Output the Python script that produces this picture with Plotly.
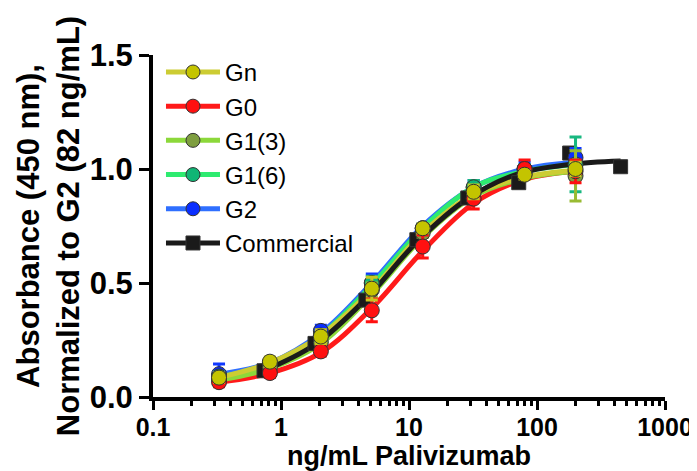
import plotly.graph_objects as go

# ---------------- data ----------------
conc = [0.328, 0.819, 2.048, 5.12, 12.8, 32, 80, 200]          # ng/mL, glycoforms
conc_commercial = [0.737, 1.843, 4.608, 11.52, 28.8, 72, 180, 450]

series_names = ["Gn", "G0", "G1(3)", "G1(6)", "G2", "Commercial"]

gn_vals = [0.085, 0.155, 0.265, 0.475, 0.74, 0.90, 0.975, 1.00]
g0_vals = [0.065, 0.105, 0.200, 0.380, 0.66, 0.87, 1.000, 0.99]
g13_vals = [0.080, 0.130, 0.240, 0.470, 0.72, 0.90, 0.980, 0.97]
g16_vals = [0.090, 0.140, 0.270, 0.500, 0.74, 0.92, 1.000, 1.02]
g2_vals = [0.100, 0.150, 0.290, 0.500, 0.74, 0.92, 1.000, 1.05]
com_vals = [0.115, 0.235, 0.425, 0.690, 0.873, 0.94, 1.070, 1.01]

gn_err = [0.02, 0.02, 0.03, 0.05, 0.02, 0.03, 0.02, 0.03]
g0_err = [0.02, 0.02, 0.02, 0.05, 0.05, 0.045, 0.04, 0.05]
g13_err = [0.02, 0.02, 0.02, 0.03, 0.02, 0.02, 0.02, 0.11]
g16_err = [0.02, 0.02, 0.02, 0.03, 0.02, 0.03, 0.02, 0.12]
g2_err = [0.045, 0.02, 0.025, 0.04, 0.02, 0.03, 0.03, 0.04]
com_err = [0, 0, 0, 0, 0, 0, 0, 0]

# fitted curve heights at the same concentrations
gn_fit = [0.085, 0.150, 0.270, 0.470, 0.72, 0.89, 0.965, 0.995]
g0_fit = [0.065, 0.105, 0.195, 0.390, 0.64, 0.85, 0.955, 0.99]
g13_fit = [0.075, 0.125, 0.235, 0.450, 0.70, 0.88, 0.960, 0.99]
g16_fit = [0.090, 0.140, 0.270, 0.490, 0.74, 0.92, 0.990, 1.02]
g2_fit = [0.100, 0.150, 0.280, 0.500, 0.75, 0.92, 1.000, 1.03]
com_fit = [0.115, 0.230, 0.430, 0.680, 0.87, 0.98, 1.020, 1.035]

x_tickvals = [0.1, 1, 10, 100, 1000]
x_ticktext = ["0.1", "1", "10", "100", "1000"]
y_tickvals = [0.0, 0.5, 1.0, 1.5]
y_ticktext = ["0.0", "0.5", "1.0", "1.5"]

# ---------------- styles ----------------
FONT = "Arial, Liberation Sans, sans-serif"
line_colors = {"Gn": "#CCCC33", "G0": "#FF1A1A", "G1(3)": "#8CD83A",
               "G1(6)": "#2EEB70", "G2": "#2F6FFF", "Commercial": "#1A1A1A"}
marker_colors = {"Gn": "#C4C400", "G0": "#FF1010", "G1(3)": "#7E9E40",
                 "G1(6)": "#10B575", "G2": "#0A2EFF", "Commercial": "#1A1A1A"}
err_colors = {"Gn": "#C8C820", "G0": "#FF1010", "G1(3)": "#99BB33",
              "G1(6)": "#18B880", "G2": "#1038FF", "Commercial": "#1A1A1A"}

data = {
    "Gn": (conc, gn_vals, gn_err, gn_fit),
    "G0": (conc, g0_vals, g0_err, g0_fit),
    "G1(3)": (conc, g13_vals, g13_err, g13_fit),
    "G1(6)": (conc, g16_vals, g16_err, g16_fit),
    "G2": (conc, g2_vals, g2_err, g2_fit),
    "Commercial": (conc_commercial, com_vals, com_err, com_fit),
}

line_order = ["G0", "G2", "G1(6)", "G1(3)", "Gn", "Commercial"]
marker_order = ["Commercial", "G2", "G1(6)", "G1(3)", "G0", "Gn"]

fig = go.Figure()

for name in line_order:
    xs, vals, errs, fit = data[name]
    fig.add_trace(go.Scatter(
        x=xs, y=fit, mode="lines",
        line=dict(color=line_colors[name], width=5, shape="spline", smoothing=1.0),
        showlegend=False, hoverinfo="skip"))

for name in marker_order:
    xs, vals, errs, fit = data[name]
    sym = "square" if name == "Commercial" else "circle"
    fig.add_trace(go.Scatter(
        x=xs, y=vals, mode="markers",
        marker=dict(symbol=sym, size=15 if sym == "circle" else 14, color=marker_colors[name],
                    line=dict(color="#333333", width=1)),
        error_y=dict(type="data", array=errs, visible=True, color=err_colors[name], thickness=3, width=6),
        showlegend=False))

# legend entries (line + marker)
for i, name in enumerate(series_names):
    sym = "square" if name == "Commercial" else "circle"
    fig.add_trace(go.Scatter(
        x=[None], y=[None], mode="lines+markers", name=name, legendrank=i + 1,
        line=dict(color=line_colors[name], width=5),
        marker=dict(symbol=sym, size=14, color=marker_colors[name], line=dict(color="#333333", width=1))))

# the page body adds an 8 px margin, so the figure is 8 px smaller on each axis
fig.update_layout(
    width=689, height=463,
    margin=dict(l=145, r=32, t=47, b=74, autoexpand=False),
    paper_bgcolor="white", plot_bgcolor="white",
    font=dict(family=FONT, color="black"),
    legend=dict(x=0.0156, y=1.015, xanchor="left", yanchor="top", bgcolor="rgba(0,0,0,0)",
                font=dict(size=24, family=FONT),
                itemwidth=54, tracegroupgap=0),
    showlegend=True,
)

fig.update_xaxes(
    type="log", range=[-1, 3], showgrid=False, zeroline=False, automargin=False,
    showline=True, linecolor="black", linewidth=4,
    ticks="outside", ticklen=9, tickwidth=3, tickcolor="black",
    tickmode="array", tickvals=x_tickvals, ticktext=x_ticktext,
    ticklabelstandoff=-4,
    tickfont=dict(size=25, family=FONT, weight="bold"),
    minor=dict(ticks="outside", ticklen=5, tickwidth=3, tickcolor="black", dtick="D1", showgrid=False),
    title=dict(text="<b>ng/mL Palivizumab</b>", font=dict(size=27, family=FONT), standoff=0),
)
fig.update_yaxes(
    range=[0, 1.5], showgrid=False, zeroline=False, automargin=False,
    showline=True, linecolor="black", linewidth=4,
    ticks="outside", ticklen=10, tickwidth=3, tickcolor="black",
    tickmode="array", tickvals=y_tickvals, ticktext=y_ticktext,
    tickfont=dict(size=31, family=FONT, weight="bold"),
    title=dict(text="<b>Absorbance (450 nm),<br>Normalized to G2 (82 ng/mL)</b>",
               font=dict(size=31, family=FONT), standoff=2),
)

fig.write_html("out.html")
